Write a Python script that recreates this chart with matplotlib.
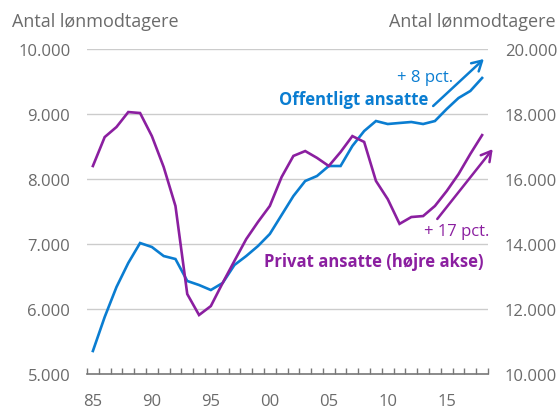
import matplotlib
matplotlib.use("Agg")
import matplotlib.pyplot as plt
from matplotlib.ticker import FuncFormatter, FixedLocator

plt.rcParams['font.family'] = ['Open Sans', 'DejaVu Sans']

years = list(range(1985, 2019))
offentligt = [5354, 5877, 6338, 6708, 7015, 6954, 6815, 6769, 6431, 6369,
              6292, 6400, 6677, 6815, 6969, 7154, 7446, 7738, 7969, 8046,
              8200, 8200, 8508, 8738, 8892, 8846, 8862, 8877, 8846, 8892,
              9077, 9246, 9354, 9554]
privat = [16400, 17290, 17600, 18060, 18030, 17320, 16370, 15170, 12460, 11815,
          12090, 12800, 13480, 14150, 14680, 15170, 16060, 16710, 16860, 16650,
          16400, 16830, 17320, 17140, 15940, 15380, 14620, 14830, 14860, 15170,
          15630, 16150, 16770, 17350]
left_ticks = [5000, 6000, 7000, 8000, 9000, 10000]
right_ticks = [10000, 12000, 14000, 16000, 18000, 20000]
xlabel_years = [1985, 1990, 1995, 2000, 2005, 2010, 2015]
xlabels = ['85', '90', '95', '00', '05', '10', '15']

BLUE = '#0A7DD1'
PURPLE = '#8B1FA0'
GREY = '#6b6b6b'

fig = plt.figure(figsize=(5.6, 4.1), dpi=100)
ax = fig.add_axes([87/560, 35/410, (488-87)/560, (375-50)/410])
ax2 = ax.twinx()

def fmt(v, pos):
    return f"{int(round(v)):,}".replace(",", ".")

ax.set_xlim(1984.5, 2018.5)
ax.set_ylim(5000, 10000)
ax2.set_ylim(10000, 20000)

ax.set_yticks(left_ticks)
ax2.set_yticks(right_ticks)
ax.yaxis.set_major_formatter(FuncFormatter(fmt))
ax2.yaxis.set_major_formatter(FuncFormatter(fmt))
for a in (ax, ax2):
    a.tick_params(axis='y', length=0, labelsize=12, labelcolor=GREY)
    for s in a.spines.values():
        s.set_visible(False)
ax.tick_params(axis='y', pad=12)
ax2.tick_params(axis='y', pad=12)
ax.spines['bottom'].set_visible(True)
ax.spines['bottom'].set_color('#777777')
ax.spines['bottom'].set_linewidth(1.2)

ax.set_xticks(xlabel_years)
ax.set_xticklabels(xlabels)
ax.xaxis.set_minor_locator(FixedLocator([y - 0.5 for y in years] + [2018.5]))
ax.tick_params(axis='x', which='major', length=0, labelsize=12, labelcolor=GREY, pad=14)
ax.tick_params(axis='x', which='minor', length=4.5, direction='in', color='#777777', width=1)

for t in left_ticks[1:]:
    ax.axhline(t, color='#cccccc', lw=1, zorder=0)

ax.plot(years, offentligt, color=BLUE, lw=1.9, zorder=3, solid_joinstyle='miter')
ax2.plot(years, privat, color=PURPLE, lw=1.9, zorder=3, solid_joinstyle='miter')
ax2.patch.set_visible(False)

ax.text(2015.54, 9569, '+ 8 pct.', color=BLUE, fontsize=12, ha='right', va='center')
ax.text(2013.43, 9231, 'Offentligt ansatte', color=BLUE, fontsize=12,
        fontweight='bold', ha='right', va='center')
ax.text(2018.6, 7200, '+ 17 pct.', color=PURPLE, fontsize=12, ha='right', va='center')
ax.text(2018.08, 6738, 'Privat ansatte (højre akse)', color=PURPLE, fontsize=12,
        fontweight='bold', ha='right', va='center')

ax.annotate('', xy=(2018.15, 9846), xytext=(2013.85, 9123),
            arrowprops=dict(arrowstyle='->,head_length=0.7,head_width=0.4',
                            color=BLUE, lw=1.8, shrinkA=0, shrinkB=0),
            annotation_clip=False)
ax.annotate('', xy=(2018.9, 8460), xytext=(2014.2, 7385),
            arrowprops=dict(arrowstyle='->,head_length=0.7,head_width=0.4',
                            color=PURPLE, lw=1.8, shrinkA=0, shrinkB=0),
            annotation_clip=False)

fig.text(12/560, 1 - 22/410, 'Antal lønmodtagere', fontsize=13, color=GREY,
         ha='left', va='center')
fig.text(556/560, 1 - 22/410, 'Antal lønmodtagere', fontsize=13, color=GREY,
         ha='right', va='center')

fig.savefig('out.png', dpi=100)
